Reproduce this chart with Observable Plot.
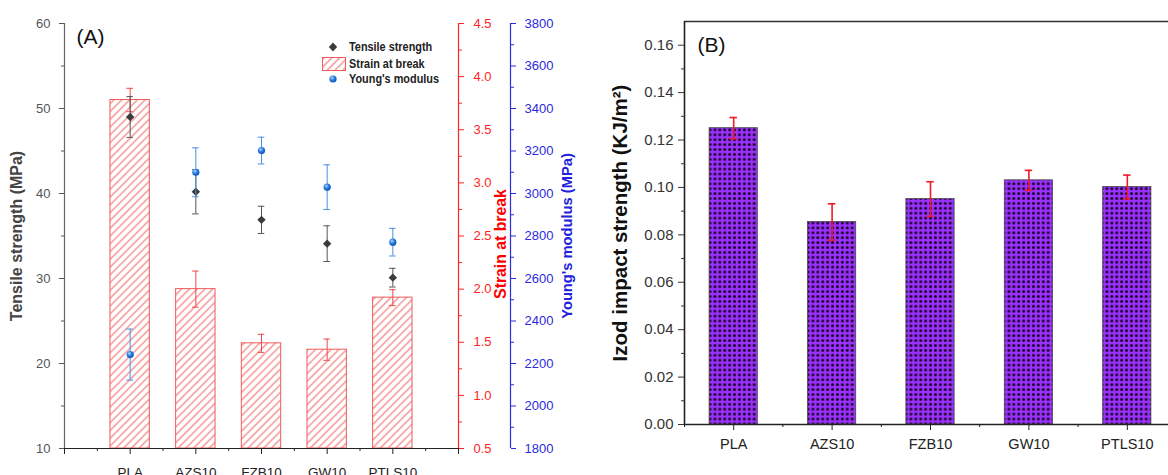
<!DOCTYPE html>
<html><head><meta charset="utf-8">
<script src="https://cdn.jsdelivr.net/npm/d3@7"></script>
<script src="https://cdn.jsdelivr.net/npm/@observablehq/plot@0.6"></script>
<style>
html,body{margin:0;padding:0;background:#fff;}
#wrap{position:relative;width:1168px;height:475px;overflow:hidden;font-family:"Liberation Sans",Arial,sans-serif;}
#wrap > svg{position:absolute;top:0;}
.lg{position:absolute;left:322px;height:16px;line-height:16px;font-family:"Liberation Sans",Arial,sans-serif;font-weight:bold;font-size:12.5px;color:#222;white-space:nowrap;}
.lg svg{position:absolute;left:0;top:0;}
.lg span{position:absolute;left:27px;top:0;display:inline-block;transform:scaleX(0.87);transform-origin:left center;}
</style>
</head><body><div id="wrap"></div>
<script>
// ---- data ----
const categories = ["PLA", "AZS10", "FZB10", "GW10", "PTLS10"];
const tensile = [49.0, 40.2, 36.9, 34.1, 30.1];
const tensileErr = [2.4, 2.6, 1.6, 2.1, 1.1];
const strain = [3.78, 2.0, 1.49, 1.43, 1.92];
const strainErr = [0.11, 0.17, 0.085, 0.1, 0.075];
const modulus = [2242, 3100, 3202, 3030, 2771];
const modulusErr = [120, 115, 63, 105, 65];
const impact = [0.1250, 0.0854, 0.0951, 0.1030, 0.1002];
const impactErr = [0.0045, 0.0077, 0.0073, 0.0042, 0.0050];
const tensileTicks = [10, 20, 30, 40, 50, 60];
const tensileMinor = [15, 25, 35, 45, 55];
const strainTicks = [0.5, 1.0, 1.5, 2.0, 2.5, 3.0, 3.5, 4.0, 4.5];
const strainMinor = [0.75, 1.25, 1.75, 2.25, 2.75, 3.25, 3.75, 4.25];
const modulusTicks = [1800, 2000, 2200, 2400, 2600, 2800, 3000, 3200, 3400, 3600, 3800];
const modulusMinor = [1900, 2100, 2300, 2500, 2700, 2900, 3100, 3300, 3500, 3700];
const impactTicks = [0, 0.02, 0.04, 0.06, 0.08, 0.10, 0.12, 0.14, 0.16];
const impactMinor = [0.01, 0.03, 0.05, 0.07, 0.09, 0.11, 0.13, 0.15];

// secondary axes mapped onto the tensile (left) scale
const strainToY = s => 10 + (s - 0.5) * 12.5;
const yToStrain = v => (v - 10) / 12.5 + 0.5;
const modToY = m => 10 + (m - 1800) * 0.025;
const yToMod = v => (v - 10) / 0.025 + 1800;

const rowsA = categories.map((c, i) => ({
  cat: c, x: i + 1,
  tensile: tensile[i], tErr: tensileErr[i],
  strain: strain[i], sErr: strainErr[i],
  modulus: modulus[i], mErr: modulusErr[i]
}));
const rowsB = categories.map((c, i) => ({cat: c, x: i, v: impact[i], e: impactErr[i]}));

function errorMarks(rows, x, lo, hi, color, half, width) {
  return [
    Plot.ruleX(rows, {x, y1: lo, y2: hi, stroke: color, strokeWidth: width}),
    Plot.ruleY(rows, {y: hi, x1: d => x(d) - half, x2: d => x(d) + half, stroke: color, strokeWidth: width}),
    Plot.ruleY(rows, {y: lo, x1: d => x(d) - half, x2: d => x(d) + half, stroke: color, strokeWidth: width})
  ];
}
const xA = d => d.x;
const FONT = "Liberation Sans, Arial, sans-serif";
const RED = "#ff2424", BLUE = "#2b2bdd", GRAY = "#555";

const plotA = Plot.plot({
  width: 590, height: 475,
  marginLeft: 64, marginRight: 132, marginTop: 23, marginBottom: 27,
  x: {type: "linear", domain: [0, 6]},
  y: {domain: [10, 60]},
  style: {fontFamily: FONT, background: "transparent", fontSize: "13px"},
  marks: [
    Plot.rect(rowsA, {x1: d => d.x - 0.3, x2: d => d.x + 0.3, y1: 10, y2: d => strainToY(d.strain),
      fill: "url(#hatchA)", stroke: "#f05a5a", strokeWidth: 1}),
    ...errorMarks(rowsA, xA, d => strainToY(d.strain - d.sErr), d => strainToY(d.strain + d.sErr), "#ef4a4a", 0.05, 1),
    ...errorMarks(rowsA, xA, d => d.tensile - d.tErr, d => d.tensile + d.tErr, "#555", 0.05, 1),
    Plot.dot(rowsA, {x: "x", y: "tensile", symbol: "diamond2", r: 3.8, fill: "#3b3b3b", stroke: "none"}),
    ...errorMarks(rowsA, xA, d => modToY(d.modulus - d.mErr), d => modToY(d.modulus + d.mErr), "#4a8fe0", 0.05, 1),
    Plot.dot(rowsA, {x: "x", y: d => modToY(d.modulus), r: 3.6, fill: "url(#ball)", stroke: "none"}),
    // left axis
    Plot.ruleX([0], {stroke: "#666", strokeWidth: 1.2}),
    Plot.axisY(tensileTicks, {anchor: "left", tickSize: 5, tickPadding: 9, fontSize: 13, color: GRAY, label: null}),
    Plot.axisY(tensileMinor, {anchor: "left", tickSize: 3, tickFormat: () => "", color: GRAY, label: null}),
    // bottom axis
    Plot.ruleY([10], {stroke: "#222", strokeWidth: 1.2}),
    Plot.axisX([1, 2, 3, 4, 5], {tickSize: 6, tickPadding: 13, tickFormat: i => categories[i - 1], fontSize: 13.5, color: "#222", label: null}),
    Plot.axisX([0, 6], {tickSize: 6, tickFormat: () => "", color: "#222", label: null}),
    Plot.axisX([0.5, 1.5, 2.5, 3.5, 4.5, 5.5], {tickSize: 3, tickFormat: () => "", color: "#222", label: null}),
    // red strain axis
    Plot.ruleX([6], {stroke: RED, strokeWidth: 1.2}),
    Plot.axisY(strainTicks.map(strainToY), {anchor: "right", tickSize: 5, tickPadding: 10, fontSize: 13,
      tickFormat: v => yToStrain(v).toFixed(1), color: RED, label: null}),
    Plot.axisY(strainMinor.map(strainToY), {anchor: "right", tickSize: 3, tickFormat: () => "", color: RED, label: null}),
    // blue modulus axis
    Plot.ruleX([6], {dx: 52, stroke: BLUE, strokeWidth: 1.2}),
    Plot.axisY(modulusTicks.map(modToY), {anchor: "right", dx: 52, tickSize: 5, tickPadding: 9, fontSize: 13,
      tickFormat: v => String(Math.round(yToMod(v))), color: BLUE, label: null}),
    Plot.axisY(modulusMinor.map(modToY), {anchor: "right", dx: 52, tickSize: 3, tickFormat: () => "", color: BLUE, label: null}),
    // titles
    Plot.text(["Tensile strength (MPa)"], {frameAnchor: "left", dx: -48, rotate: -90, textAnchor: "middle", lineAnchor: "middle", fontWeight: "bold", fontSize: 16, fill: "#444"}),
    Plot.text(["Strain at break"], {frameAnchor: "right", dx: 42, dy: 8, rotate: -90, textAnchor: "middle", lineAnchor: "middle", fontWeight: "bold", fontSize: 15.8, fill: "#ff0000"}),
    Plot.text(["Young's modulus (MPa)"], {frameAnchor: "right", dx: 109, rotate: -90, textAnchor: "middle", lineAnchor: "middle", fontWeight: "bold", fontSize: 14.7, fill: "#2020dd"}),
    Plot.text(["(A)"], {frameAnchor: "top-left", dx: 12, dy: 6, textAnchor: "start", lineAnchor: "top", fontSize: 21, fill: "#111"})
  ]
});

const xB = d => d.x;
const plotB = Plot.plot({
  width: 600, height: 475,
  marginLeft: 94, marginRight: 14, marginTop: 21, marginBottom: 51,
  x: {type: "linear", domain: [-0.5, 4.5]},
  y: {domain: [0, 0.17]},
  style: {fontFamily: FONT, background: "transparent", fontSize: "14px"},
  marks: [
    Plot.rect(rowsB, {x1: d => d.x - 0.245, x2: d => d.x + 0.245, y1: 0, y2: "v",
      fill: "url(#dotsB)", stroke: "#4a4a4a", strokeWidth: 0.8}),
    ...errorMarks(rowsB, xB, d => d.v - d.e, d => d.v + d.e, "#ee1c25", 0.038, 1.6),
    Plot.ruleY([0.17], {stroke: "#333", strokeWidth: 1.6}),
    Plot.ruleY([0], {stroke: "#222", strokeWidth: 1.6}),
    Plot.ruleX([-0.5], {stroke: "#222", strokeWidth: 1.6}),
    Plot.axisY(impactTicks, {anchor: "left", tickSize: 6, tickPadding: 5, fontSize: 15, tickFormat: d3.format(".2f"), color: "#333", label: null}),
    Plot.axisY(impactMinor, {anchor: "left", tickSize: 3, tickFormat: () => "", color: "#333", label: null}),
    Plot.axisX([0, 1, 2, 3, 4], {tickSize: 6, tickPadding: 8, tickFormat: i => categories[i], fontSize: 14.5, color: "#222", label: null}),
    Plot.axisX([-0.5, 0.5, 1.5, 2.5, 3.5], {tickSize: 3, tickFormat: () => "", color: "#222", label: null}),
    Plot.text(["Izod impact strength (KJ/m²)"], {frameAnchor: "left", dx: -64, rotate: -90, textAnchor: "middle", lineAnchor: "middle", fontWeight: "bold", fontSize: 20.5, fill: "#111"}),
    Plot.text(["(B)"], {frameAnchor: "top-left", dx: 13, dy: 16, textAnchor: "start", lineAnchor: "top", fontSize: 21, fill: "#111"})
  ]
});

const wrap = document.getElementById("wrap");
plotA.style.left = "0px";
plotB.style.left = "590px";
wrap.appendChild(plotB);
wrap.appendChild(plotA);

d3.select(plotA).insert("defs", ":first-child").html(`
  <pattern id="hatchA" patternUnits="userSpaceOnUse" width="5.5" height="10" patternTransform="rotate(45)">
    <rect width="5.5" height="10" fill="#fff"/>
    <line x1="2.75" y1="0" x2="2.75" y2="10" stroke="#f27272" stroke-width="1.1"/>
  </pattern>
  <radialGradient id="ball" cx="0.38" cy="0.35" r="0.7">
    <stop offset="0" stop-color="#b5dcff"/>
    <stop offset="0.45" stop-color="#2b7fe3"/>
    <stop offset="1" stop-color="#0b4cae"/>
  </radialGradient>`);
d3.select(plotB).insert("defs", ":first-child").html(`
  <pattern id="dotsB" patternUnits="userSpaceOnUse" width="4.9" height="4.9">
    <rect width="4.9" height="4.9" fill="#9b30ff"/>
    <circle cx="2.45" cy="2.45" r="1.5" fill="#1a0826"/>
  </pattern>`);

// legend (panel A)
const legendItems = [
  {label: "Tensile strength", top: 39, sym: `<polygon points="11,3.5 15.2,8 11,12.5 6.8,8" fill="#3b3b3b"/>`},
  {label: "Strain at break", top: 55.5, sym: `<rect x="0.5" y="1.5" width="23" height="13" fill="url(#hatchA)" stroke="#f05a5a" stroke-width="1"/>`},
  {label: "Young's modulus", top: 70.5, sym: `<circle cx="11" cy="8" r="3.6" fill="url(#ball)"/>`}
];
for (const it of legendItems) {
  const div = document.createElement("div");
  div.className = "lg";
  div.style.top = it.top + "px";
  div.innerHTML = `<svg width="25" height="16">${it.sym}</svg><span>${it.label}</span>`;
  wrap.appendChild(div);
}
</script>
</body></html>
